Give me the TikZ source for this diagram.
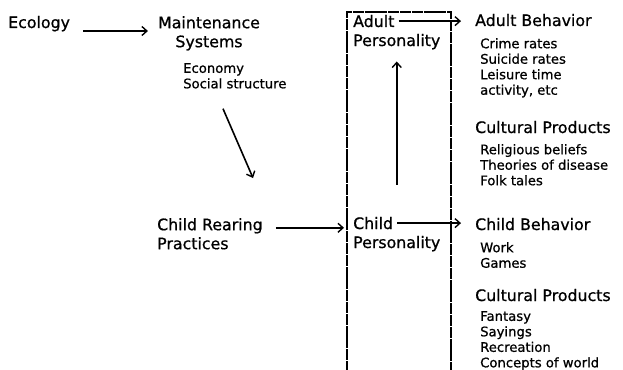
\documentclass[tikz,border=0pt]{standalone}
\usepackage{fontspec}
\setmainfont{DejaVu Sans}[FakeBold=0.8]
\usetikzlibrary{arrows.meta}
\begin{document}
\begin{tikzpicture}[x=1pt,y=-1pt,
  big/.style={font=\fontsize{15.8}{19}\selectfont, inner sep=0pt},
  small/.style={font=\fontsize{13.2}{15.5}\selectfont, inner sep=0pt, align=left},
  arr/.style={line width=1.6pt, -{Straight Barb[length=5pt,width=9pt,line width=1.4pt]}},
  framebox/.style={line width=1.2pt, dash pattern=on 11pt off 0.8pt}]
\useasboundingbox (0,0) rectangle (623,369);

% left chain
\node[big, anchor=base west] (eco) at (8,28) {Ecology};
\node[big, anchor=north, align=center] (maint) at (209,16) {Maintenance\\Systems};
\node[small, anchor=north west] (econ) at (183,63) {Economy\\Social structure};
\node[big, anchor=north west, align=left] (rear) at (157,218) {Child Rearing\\Practices};

% personality frame
\draw[framebox] (347,372) -- (347,12) -- (451,12) -- (451,372);
\node[big, anchor=base west] (adult) at (353,27) {Adult};
\node[big, anchor=base west] (adultp) at (353,46) {Personality};
\node[big, anchor=base west] (childn) at (353,229) {Child};
\node[big, anchor=base west] (childp) at (353,248) {Personality};

% outcomes
\node[big, anchor=base west] (abeh) at (475,26) {Adult Behavior};
\node[small, anchor=north west] (aitems) at (480,38) {Crime rates\\Suicide rates\\Leisure time\\activity, etc};
\node[big, anchor=base west] (cult1) at (475,133) {Cultural Products};
\node[small, anchor=north west] (c1items) at (480,144) {Religious beliefs\\Theories of disease\\Folk tales};
\node[big, anchor=base west] (cbeh) at (475,230) {Child Behavior};
\node[small, anchor=north west] (citems) at (480,242) {Work\\Games};
\node[big, anchor=base west] (cult2) at (475,301) {Cultural Products};
\node[small, anchor=north west] (c2items) at (480,311) {Fantasy\\Sayings\\Recreation\\Concepts of world};

% connectors
\draw[arr, shorten >=10pt] ([xshift=13pt,yshift=-3pt]eco.base east) coordinate (e1) -- (e1 -| maint.west);
\draw[arr] ([shift={(40,20)}]econ.south west) -- ([shift={(96,-40)}]rear.north west);
\draw[arr, shorten >=9pt] ([xshift=13pt,yshift=6pt]rear.east) coordinate (r1) -- (r1 -| childn.west);
\draw[arr, shorten >=14pt] ([xshift=4pt]adult.east) coordinate (a1) -- (a1 -| abeh.west);
\draw[arr, shorten >=14pt] ([xshift=4pt]childn.east) coordinate (c1) -- (c1 -| cbeh.west);
\draw[arr, shorten <=32pt, shorten >=12pt] (adultp.south |- childn.north) -- (adultp.south);
\end{tikzpicture}
\end{document}
